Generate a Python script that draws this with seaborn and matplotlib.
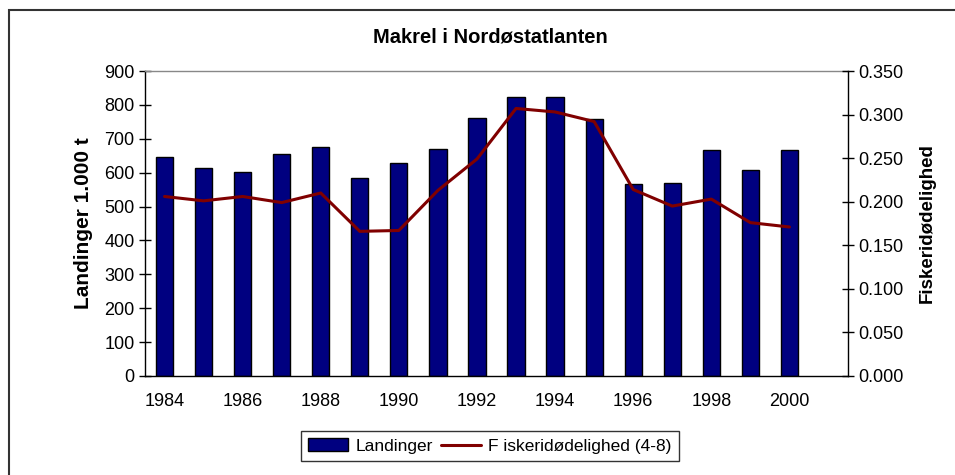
import seaborn as sns
import matplotlib.pyplot as plt
import matplotlib.patches as mpatches
import matplotlib.lines as mlines
import numpy as np
import pandas as pd

sns.set_style(style='white')
plt.rcParams['font.family'] = ['Liberation Sans', 'DejaVu Sans']
plt.rcParams['text.color'] = 'black'
plt.rcParams['axes.labelcolor'] = 'black'
plt.rcParams['xtick.color'] = 'black'
plt.rcParams['ytick.color'] = 'black'

years = list(range(1984, 2002))
landinger = [647, 613, 603, 656, 676, 584, 628, 671, 762,
             823, 823, 757, 567, 570, 666, 609, 666]
fisk_doed = [0.206, 0.201, 0.206, 0.199, 0.210, 0.166, 0.167, 0.213, 0.249,
             0.307, 0.303, 0.292, 0.214, 0.195, 0.203, 0.176, 0.171]
tick_labels = [str(y) if (y - 1984) % 2 == 0 else '' for y in years]

bar_df = pd.DataFrame({'year': years[:len(landinger)], 'landinger': landinger})
line_df = pd.DataFrame({'pos': np.arange(len(fisk_doed)), 'f': fisk_doed})

navy = '#000080'
maroon = '#800000'

fig = plt.figure(figsize=(9.55, 4.75), dpi=100)
ax = fig.add_axes([145 / 955, 1 - 376 / 475, 703 / 955, 305 / 475])

# outer chart border
fig.patches.append(mpatches.Rectangle((9 / 955, -0.1), 1.2, 1 - 10 / 475 + 0.1,
                                      transform=fig.transFigure, fill=False,
                                      edgecolor='#333333', linewidth=1.5))

sns.barplot(x='year', y='landinger', data=bar_df, order=years, color=navy,
            edgecolor='black', linewidth=1.0, width=0.44, saturation=1, ax=ax)
ax.set_xlim(-0.5, len(years) - 0.5)
ax.set_ylim(0, 900)
ax.set_yticks(np.arange(0, 901, 100))
ax.set_xticks(np.arange(len(years) + 1) - 0.5)
ax.set_xticklabels([])
ax.set_xticks(np.arange(len(years)), minor=True)
ax.set_xticklabels(tick_labels, minor=True)
ax.tick_params(axis='x', which='minor', length=0, pad=12, labelsize=13)
ax.tick_params(axis='x', which='major', direction='inout', length=9, width=1, color='black')
ax.tick_params(axis='y', direction='inout', length=9, width=1, labelsize=13, pad=3)
ax.set_xlabel('')
ax.set_ylabel('Landinger 1.000 t', fontsize=15, fontweight='bold', labelpad=8)
for s in ['left', 'bottom']:
    ax.spines[s].set_color('black')
    ax.spines[s].set_linewidth(1)
ax.spines['top'].set_color('#888888')
ax.spines['top'].set_linewidth(1)
ax.spines['right'].set_visible(False)

ax2 = ax.twinx()
sns.lineplot(x='pos', y='f', data=line_df, color=maroon, linewidth=2.2, ax=ax2)
ax2.set_ylim(0, 0.35)
ax2.set_yticks(np.arange(0, 0.351, 0.05))
ax2.set_yticklabels(['%.3f' % v for v in np.arange(0, 0.351, 0.05)])
ax2.tick_params(axis='y', direction='inout', length=9, width=1, labelsize=13, pad=3)
ax2.set_ylabel('Fiskeridødelighed', fontsize=13.5, fontweight='bold', labelpad=11)
ax2.set_xlabel('')
ax2.spines['right'].set_color('black')
ax2.spines['right'].set_linewidth(1)
for s in ['left', 'bottom', 'top']:
    ax2.spines[s].set_visible(False)

fig.text(490 / 955, 1 - 37 / 475, 'Makrel i Nordøstatlanten', ha='center', va='center',
         fontsize=14.5, fontweight='bold')

h_bar = mpatches.Patch(facecolor=navy, edgecolor='black', label='Landinger')
h_line = mlines.Line2D([], [], color=maroon, linewidth=2.2, label='F iskeridødelighed (4-8)')
leg = fig.legend(handles=[h_bar, h_line], loc='center', bbox_to_anchor=(490 / 955, 1 - 446 / 475),
                 ncol=2, fontsize=12.5, frameon=True, fancybox=False, edgecolor='black',
                 handlelength=2.3, handleheight=0.8, handletextpad=0.4, columnspacing=0.5,
                 borderpad=0.4)
leg.get_frame().set_linewidth(1)

fig.savefig('out.png', dpi=100)
